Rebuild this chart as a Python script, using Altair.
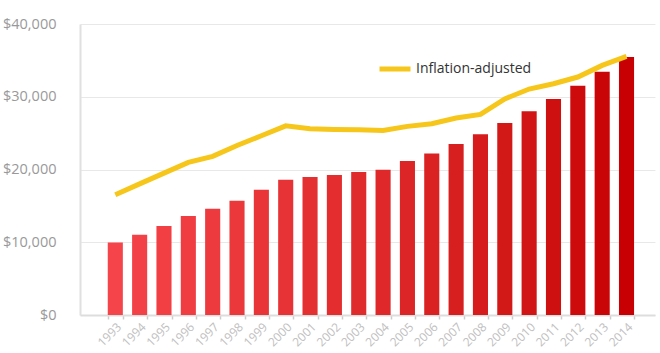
import altair as alt
import pandas as pd

years = list(range(1993, 2015))
nominal = [9980, 11040, 12230, 13610, 14610, 15710, 17220, 18600, 18970, 19240, 19660,
           19970, 21170, 22210, 23500, 24830, 26390, 27990, 29690, 31520, 33440, 35460]
adjusted = [16540, 18020, 19500, 20980, 21800, 23300, 24640, 26000, 25610, 25510, 25470,
            25370, 25930, 26300, 27080, 27570, 29700, 31060, 31790, 32710, 34310, 35550]
series_name = "Inflation-adjusted"
y_ticks = [0, 10000, 20000, 30000, 40000]

df = pd.DataFrame({"year": years, "nominal": nominal, "adjusted": adjusted,
                   "series": [series_name] * len(years)})

FONT = "Open Sans"

x_enc = alt.X(
    "year:O",
    scale=alt.Scale(paddingInner=0.38, paddingOuter=1, align=0.57),
    axis=alt.Axis(title=None, labelAngle=-45, tickBand="extent", grid=False,
                  domainColor="#dddddd", domainWidth=2, tickColor="#cccccc",
                  tickSize=4, tickWidth=1.5, labelColor="#c0c0c0", labelFontSize=12,
                  labelFont=FONT, labelPadding=2),
)

y_scale = alt.Scale(domain=[0, 40000])

bars = alt.Chart(df).mark_bar().encode(
    x=x_enc,
    y=alt.Y("nominal:Q", scale=y_scale,
            axis=alt.Axis(title=None, values=y_ticks, format="$,.0f", grid=True,
                          gridColor="#e8e8e8", gridWidth=1, domainColor="#e0e0e0",
                          domainWidth=2, ticks=False, tickSize=0, labelPadding=24,
                          labelColor="#999999", labelFontSize=14.5, labelFont=FONT)),
    color=alt.Color("year:Q", scale=alt.Scale(range=["#f5444a", "#c80004"]), legend=None),
)

line = alt.Chart(df).mark_line(strokeWidth=5).encode(
    x=x_enc,
    y=alt.Y("adjusted:Q", scale=y_scale),
    color=alt.Color("series:N",
                    scale=alt.Scale(domain=[series_name], range=["#f6c61a"]),
                    legend=alt.Legend(title=None, orient="none", legendX=297, legendY=27,
                                      symbolType="stroke", symbolStrokeWidth=5,
                                      symbolSize=961, labelFontSize=14,
                                      labelColor="#333333", labelFont=FONT,
                                      labelOffset=3)),
)

chart = alt.layer(bars, line).resolve_scale(color="independent").properties(
    width=575, height=291,
    autosize=alt.AutoSizeParams(type="none"),
    padding={"left": 80, "top": 24, "right": 5, "bottom": 38},
).configure_view(stroke=None)

chart.save("out.html", embed_options={"renderer": "svg", "actions": False})
